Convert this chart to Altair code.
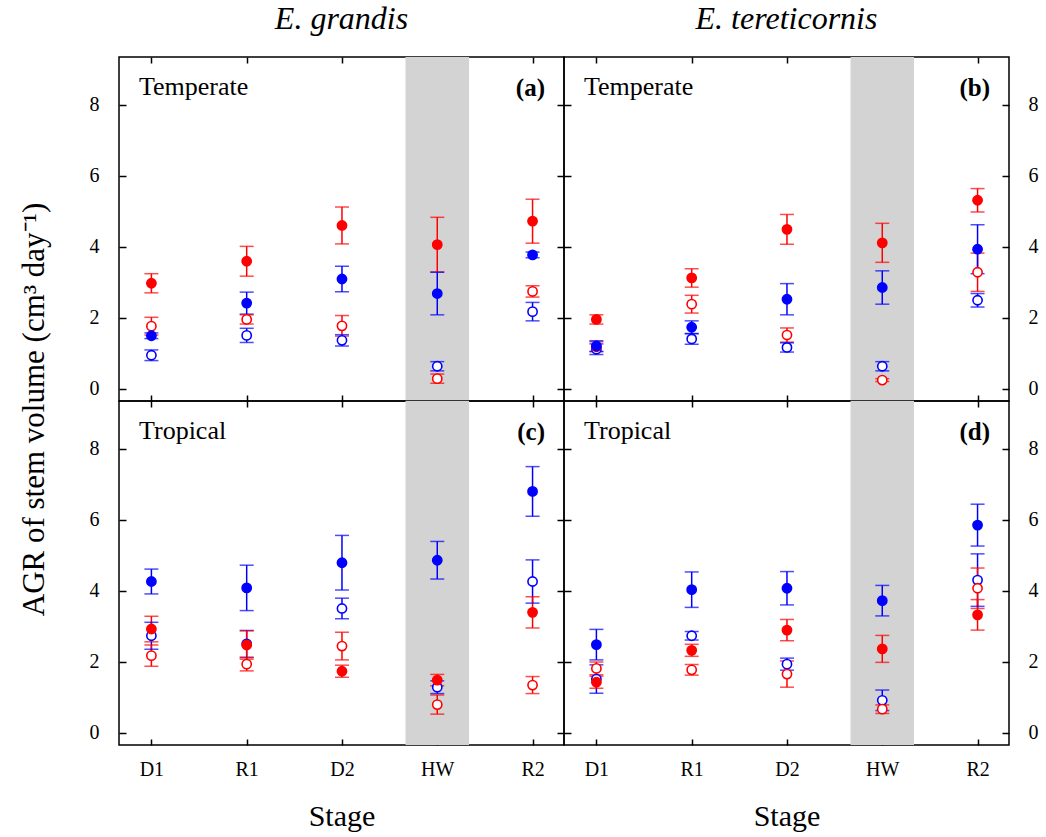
import altair as alt
import pandas as pd

# ---------------- data ----------------
stages = ["D1", "R1", "D2", "HW", "R2"]
species = ["E. grandis", "E. tereticornis"]
climates = ["Temperate", "Tropical"]
panel_tags = ["(a)", "(b)", "(c)", "(d)"]
series_order = ["Blue open", "Red open", "Red filled", "Blue filled"]
stroke_colors = ["#0000ff", "#ff0000", "#ff0000", "#0000ff"]
fill_colors = ["#ffffff", "#ffffff", "#ff0000", "#0000ff"]
y_ticks = [0, 2, 4, 6, 8]

# panel (a) E. grandis, Temperate
a_red_filled = [2.97, 3.59, 4.60, 4.06, 4.72]
a_red_filled_se = [0.27, 0.42, 0.52, 0.77, 0.62]
a_blue_filled = [1.49, 2.41, 3.09, 2.68, 3.77]
a_blue_filled_se = [0.08, 0.31, 0.36, 0.60, 0.08]
a_red_open = [1.76, 1.95, 1.77, 0.28, 2.74]
a_red_open_se = [0.25, 0.13, 0.29, 0.13, 0.16]
a_blue_open = [0.94, 1.50, 1.36, 0.63, 2.17]
a_blue_open_se = [0.15, 0.20, 0.16, 0.13, 0.26]

# panel (b) E. tereticornis, Temperate
b_red_filled = [1.95, 3.12, 4.49, 4.11, 5.31]
b_red_filled_se = [0.13, 0.26, 0.42, 0.55, 0.33]
b_blue_filled = [1.20, 1.73, 2.52, 2.85, 3.93]
b_blue_filled_se = [0.15, 0.18, 0.44, 0.47, 0.69]
b_red_open = [1.18, 2.38, 1.51, 0.24, 3.28]
b_red_open_se = [0.14, 0.25, 0.20, 0.04, 0.54]
b_blue_open = [1.11, 1.40, 1.16, 0.63, 2.49]
b_blue_open_se = [0.15, 0.15, 0.13, 0.13, 0.19]

# panel (c) E. grandis, Tropical
c_red_filled = [2.92, 2.47, 1.73, 1.48, 3.39]
c_red_filled_se = [0.36, 0.40, 0.17, 0.16, 0.44]
c_blue_filled = [4.26, 4.08, 4.79, 4.86, 6.80]
c_blue_filled_se = [0.35, 0.64, 0.77, 0.53, 0.70]
c_red_open = [2.17, 1.93, 2.44, 0.79, 1.34]
c_red_open_se = [0.30, 0.19, 0.39, 0.27, 0.24]
c_blue_open = [2.73, 2.50, 3.50, 1.28, 4.26]
c_blue_open_se = [0.38, 0.38, 0.29, 0.18, 0.61]

# panel (d) E. tereticornis, Tropical
d_red_filled = [1.42, 2.32, 2.89, 2.36, 3.32]
d_red_filled_se = [0.17, 0.17, 0.30, 0.38, 0.43]
d_blue_filled = [2.48, 4.03, 4.07, 3.72, 5.85]
d_blue_filled_se = [0.43, 0.50, 0.47, 0.43, 0.59]
d_red_open = [1.81, 1.77, 1.65, 0.66, 4.07]
d_red_open_se = [0.18, 0.15, 0.37, 0.12, 0.57]
d_blue_open = [1.51, 2.73, 1.93, 0.91, 4.30]
d_blue_open_se = [0.40, 0.12, 0.17, 0.29, 0.74]

panel_series = {
    "(a)": {"Red filled": (a_red_filled, a_red_filled_se), "Blue filled": (a_blue_filled, a_blue_filled_se),
            "Red open": (a_red_open, a_red_open_se), "Blue open": (a_blue_open, a_blue_open_se)},
    "(b)": {"Red filled": (b_red_filled, b_red_filled_se), "Blue filled": (b_blue_filled, b_blue_filled_se),
            "Red open": (b_red_open, b_red_open_se), "Blue open": (b_blue_open, b_blue_open_se)},
    "(c)": {"Red filled": (c_red_filled, c_red_filled_se), "Blue filled": (c_blue_filled, c_blue_filled_se),
            "Red open": (c_red_open, c_red_open_se), "Blue open": (c_blue_open, c_blue_open_se)},
    "(d)": {"Red filled": (d_red_filled, d_red_filled_se), "Blue filled": (d_blue_filled, d_blue_filled_se),
            "Red open": (d_red_open, d_red_open_se), "Blue open": (d_blue_open, d_blue_open_se)},
}

rows = []
for tag in panel_tags:
    for s in series_order:
        means, ses = panel_series[tag][s]
        for i, st in enumerate(stages):
            rows.append({"panel": tag, "series": s, "stage": st, "xi": i,
                         "mean": means[i], "lo": means[i] - ses[i], "hi": means[i] + ses[i]})
df = pd.DataFrame(rows)
band_df = pd.DataFrame({"stage": ["HW"], "xi": [stages.index("HW")]})

# ---------------- styling ----------------
W, H = 445, 344
FONT = "Liberation Serif"
xs = alt.Scale(domain=[-0.34, 4.33], nice=False, zero=False)
ys = alt.Scale(domain=[-0.35, 9.35], nice=False, zero=False)
stroke_scale = alt.Scale(domain=series_order, range=stroke_colors)
fill_scale = alt.Scale(domain=series_order, range=fill_colors)
label_expr = "[" + ",".join("'%s'" % s for s in stages) + "][datum.value]"
Y_TITLE = "AGR of stem volume (cm\u00b3 day\u207b\u00b9)"


def panel(idx):
    tag = panel_tags[idx]
    row, col = divmod(idx, 2)
    d = df[df.panel == tag]
    base = alt.Chart(d)

    # axes (ticks pointing inward via negative offset)
    x_bottom = alt.Axis(orient="bottom", values=list(range(len(stages))), labelExpr=label_expr,
                        labels=(row == 1), ticks=True, tickSize=6, offset=-6, domain=False, grid=False,
                        minExtent=0, labelFont=FONT, labelFontSize=20, labelPadding=14, labelColor="black",
                        title="Stage" if row == 1 else None, titleFont=FONT, titleFontSize=30,
                        titleFontWeight="normal", titlePadding=22, titleColor="black")
    x_top = alt.Axis(orient="top", values=list(range(len(stages))), labels=False, ticks=True,
                     tickSize=6, offset=-6, domain=False, grid=False, minExtent=0, maxExtent=0, title=None)
    y_left_kw = dict(orient="left", values=y_ticks, labels=(col == 0), ticks=True, tickSize=7, offset=-7,
                     domain=False, grid=False, minExtent=0, labelFont=FONT, labelFontSize=20, labelPadding=20,
                     labelColor="black", title=None)
    if idx == 0:
        y_left_kw.update(title=Y_TITLE, titleFont=FONT, titleFontSize=31, titleFontWeight="normal",
                         titleAngle=270, titleAlign="center", titleBaseline="middle",
                         titleX=-92, titleY=H + 8, titleColor="black")
    y_left = alt.Axis(**y_left_kw)
    y_right = alt.Axis(orient="right", values=y_ticks, labels=(col == 1), ticks=True, tickSize=7, offset=-7,
                       domain=False, grid=False, minExtent=0, labelFont=FONT, labelFontSize=20, labelPadding=19,
                       labelColor="black", title=None)

    band = alt.Chart(band_df).transform_calculate(
        x0="datum.xi - 1/3", x1="datum.xi + 1/3"
    ).mark_rect(color="#d3d3d3").encode(
        x=alt.X("x0:Q", scale=xs, axis=None), x2="x1:Q",
        y=alt.value(0), y2=alt.value(H))

    bars = base.mark_rule(strokeWidth=1.5).encode(
        x=alt.X("xi:Q", scale=xs, axis=x_top),
        y=alt.Y("lo:Q", scale=ys, axis=y_right), y2="hi:Q",
        color=alt.Color("series:N", scale=stroke_scale, legend=None))
    cap_lo = base.mark_tick(orient="horizontal", size=14, thickness=1.5).encode(
        x=alt.X("xi:Q", scale=xs, axis=None), y=alt.Y("lo:Q", scale=ys, axis=None),
        color=alt.Color("series:N", scale=stroke_scale, legend=None))
    cap_hi = base.mark_tick(orient="horizontal", size=14, thickness=1.5).encode(
        x=alt.X("xi:Q", scale=xs, axis=None), y=alt.Y("hi:Q", scale=ys, axis=None),
        color=alt.Color("series:N", scale=stroke_scale, legend=None))
    pts = base.mark_point(shape="circle", size=85, strokeWidth=1.6, opacity=1, fillOpacity=1).encode(
        x=alt.X("xi:Q", scale=xs, axis=x_bottom),
        y=alt.Y("mean:Q", scale=ys, axis=y_left),
        stroke=alt.Stroke("series:N", scale=stroke_scale, legend=None),
        fill=alt.Fill("series:N", scale=fill_scale, legend=None))

    clim = alt.Chart(pd.DataFrame({"t": [climates[row]]})).mark_text(
        font=FONT, fontSize=26, align="left", baseline="alphabetic", color="black"
    ).encode(text="t:N", x=alt.value(20), y=alt.value(38))
    tagtxt = alt.Chart(pd.DataFrame({"t": [tag]})).mark_text(
        font=FONT, fontSize=25, fontWeight="bold", align="right", baseline="alphabetic", color="black"
    ).encode(text="t:N", x=alt.value(W - 19), y=alt.value(39))

    props = dict(width=W, height=H)
    if row == 0:
        props["title"] = alt.TitleParams(text=species[col], font=FONT, fontSize=32, fontStyle="italic",
                                         fontWeight="normal", anchor="middle", baseline="alphabetic",
                                         offset=-5, color="black")
    return alt.layer(band, bars, cap_lo, cap_hi, pts, clim, tagtxt).properties(**props)


chart = alt.concat(*[panel(i) for i in range(4)], columns=2, spacing=0, bounds="flush").properties(
    padding={"left": 17, "top": 2, "right": 5, "bottom": 5}, background="white"
).configure_view(stroke="black", strokeWidth=1.5).configure_axis(
    tickColor="black", tickWidth=1.5
)

chart.save("out.html", embed_options={"renderer": "svg", "actions": False})
